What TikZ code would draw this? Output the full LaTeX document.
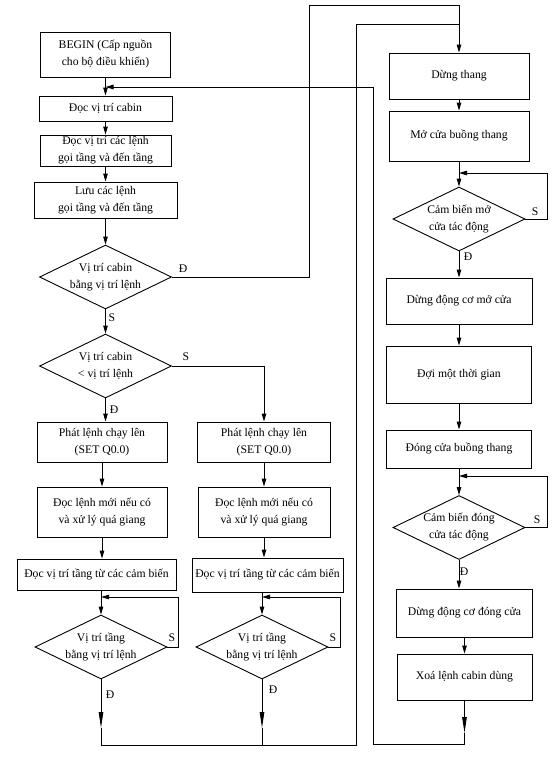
\documentclass[tikz,border=0pt]{standalone}
\usepackage{fontspec}
\setmainfont{Liberation Serif}
\usetikzlibrary{arrows.meta,shapes.geometric}

\begin{document}
\begin{tikzpicture}[x=1pt,y=-1pt,
	font=\fontsize{11.7}{17}\selectfont,
	line width=0.9pt,
	box/.style={draw,rectangle,align=center,inner sep=0pt},
	decision/.style={draw,diamond,inner sep=0pt,minimum width=132pt,minimum height=64pt},
	arr/.style={-{Triangle[length=8pt,width=4.5pt]}},
	longarr/.style={-{Triangle[length=16pt,width=4.5pt]}}]
	\useasboundingbox (0,0) rectangle (559,764);
	\node[box,minimum width=130pt,minimum height=45pt] (begin) at (105.5,54.5) {BEGIN (Cấp nguồn\\cho bộ điều khiển)};
	\node[box,minimum width=133pt,minimum height=25pt] (readcab) at (105.5,108.5) {Đọc vị trí cabin};
	\node[box,minimum width=131pt,minimum height=31pt] (readcmd) at (105.5,150.5) {Đọc vị trí các lệnh\\gọi tầng và đến tầng};
	\node[box,minimum width=143pt,minimum height=36pt] (savecmd) at (105.5,200) {Lưu các lệnh\\gọi tầng và đến tầng};
	\node[decision,label={[align=center]center:Vị trí cabin\\bằng vị trí lệnh}] (dec1) at (105.5,277) {};
	\node[decision,label={[align=center]center:Vị trí cabin\\< vị trí lệnh}] (dec2) at (105.5,366) {};
	\node[box,minimum width=130pt,minimum height=40pt] (upL) at (102,442) {Phát lệnh chạy lên\\(SET Q0.0)};
	\node[box,minimum width=130pt,minimum height=50pt] (newL) at (102,512) {Đọc lệnh mới nếu có\\và xử lý quá giang};
	\node[box,minimum width=159pt,minimum height=31pt] (floorL) at (96.5,574.5) {Đọc vị trí tầng từ các cảm biến};
	\node[decision,label={[align=center]center:Vị trí tầng\\bằng vị trí lệnh}] (dec3L) at (101,647) {};
	\node[box,minimum width=133pt,minimum height=40pt] (upR) at (264,442) {Phát lệnh chạy lên\\(SET Q0.0)};
	\node[box,minimum width=132pt,minimum height=50pt] (newR) at (264,512) {Đọc lệnh mới nếu có\\và xử lý quá giang};
	\node[box,minimum width=151pt,minimum height=34pt] (floorR) at (267.5,575) {Đọc vị trí tầng từ các cảm biến};
	\node[decision,label={[align=center]center:Vị trí tầng\\bằng vị trí lệnh}] (dec3R) at (262,647) {};
	\node[box,minimum width=140pt,minimum height=46pt] (stop) at (459,76) {Dừng thang};
	\node[box,minimum width=140pt,minimum height=50pt] (opendoor) at (459,136) {Mở cửa buồng thang};
	\node[decision,label={[align=center]center:Cảm biến mở\\cửa tác động}] (dec4) at (459,219) {};
	\node[box,minimum width=146pt,minimum height=46pt] (motoropen) at (459,301) {Dừng động cơ mở cửa};
	\node[box,minimum width=145pt,minimum height=57pt] (wait) at (459,374.5) {Đợi một thời gian};
	\node[box,minimum width=145pt,minimum height=38pt] (closedoor) at (459,449) {Đóng cửa buồng thang};
	\node[decision,label={[align=center]center:Cảm biến đóng\\cửa tác động}] (dec5) at (459,527.5) {};
	\node[box,minimum width=136pt,minimum height=48pt] (motorclose) at (464.5,613) {Dừng động cơ đóng cửa};
	\node[box,minimum width=135pt,minimum height=46pt] (clear) at (464.5,677) {Xoá lệnh cabin dùng};
	\node (yes1) at (183,269) {Đ};
	\node (no1) at (112,318) {S};
	\node (no2) at (186,357) {S};
	\node (yes2) at (114,410) {Đ};
	\node (no3L) at (172,638) {S};
	\node (yes3L) at (110,695) {Đ};
	\node (no3R) at (333,638) {S};
	\node (yes3R) at (273,690) {Đ};
	\node (no4) at (535,212) {S};
	\node (yes4) at (468,257) {Đ};
	\node (no5) at (537,520) {S};
	\node (yes5) at (464,572) {Đ};
	\coordinate (joinB) at (105.5,87);
	\coordinate (loopL) at (101,597);
	\coordinate (loopR) at (262,597);
	\coordinate (endL) at (101,728);
	\coordinate (endR) at (262,728);
	\coordinate (bottomL) at (101,745);
	\coordinate (bottomR) at (262,745);
	\coordinate (riserT) at (356,24);
	\coordinate (mergeT) at (459,24);
	\coordinate (riserD) at (309,5);
	\coordinate (loop4) at (459,173);
	\coordinate (loop5) at (459,476);
	\coordinate (endX) at (464.5,733);
	\coordinate (retB) at (373,744);
	\draw[arr] (begin.south) -- (readcab.north);
	\draw[arr] (readcab.south) -- (readcmd.north);
	\draw[arr] (readcmd.south) -- (savecmd.north);
	\draw[arr] (savecmd.south) -- (dec1.north);
	\draw[arr] (dec1.south) -- (dec2.north);
	\draw[arr] (dec2.south) -- (dec2.south |- upL.north);
	\draw[arr] (dec2.east) -| (upR.north);
	\draw[arr] (upL.south) -- (newL.north);
	\draw[arr] (newL.south) -- (newL.south |- floorL.north);
	\draw[arr] (dec3L.north |- floorL.south) -- (dec3L.north);
	\draw[arr] (dec3L.east) -- ++(11,0) |- (loopL);
	\draw[longarr] (dec3L.south) -- (endL);
	\draw[arr] (upR.south) -- (newR.north);
	\draw[arr] (newR.south) -- (newR.south |- floorR.north);
	\draw[arr] (dec3R.north |- floorR.south) -- (dec3R.north);
	\draw[arr] (dec3R.east) -- ++(12,0) |- (loopR);
	\draw[longarr] (dec3R.south) -- (endR);
	\draw (endR) -- (bottomR);
	\draw (endL) -- (bottomL) -| (riserT) -- (mergeT);
	\draw[arr] (dec1.east) -| (riserD) -| (stop.north);
	\draw[arr] (stop.south) -- (opendoor.north);
	\draw[arr] (opendoor.south) -- (dec4.north);
	\draw[arr] (dec4.east) -- ++(22,0) |- (loop4);
	\draw[arr] (dec4.south) -- (motoropen.north);
	\draw[arr] (motoropen.south) -- (wait.north);
	\draw[arr] (wait.south) -- (closedoor.north);
	\draw[arr] (closedoor.south) -- (dec5.north);
	\draw[arr] (dec5.east) -- ++(22,0) |- (loop5);
	\draw[arr] (dec5.south) -- (dec5.south |- motorclose.north);
	\draw[arr] (motorclose.south) -- (clear.north);
	\draw[longarr] (clear.south) -- (endX);
	\draw[arr] (endX) |- (retB) |- (joinB);
\end{tikzpicture}
\end{document}
